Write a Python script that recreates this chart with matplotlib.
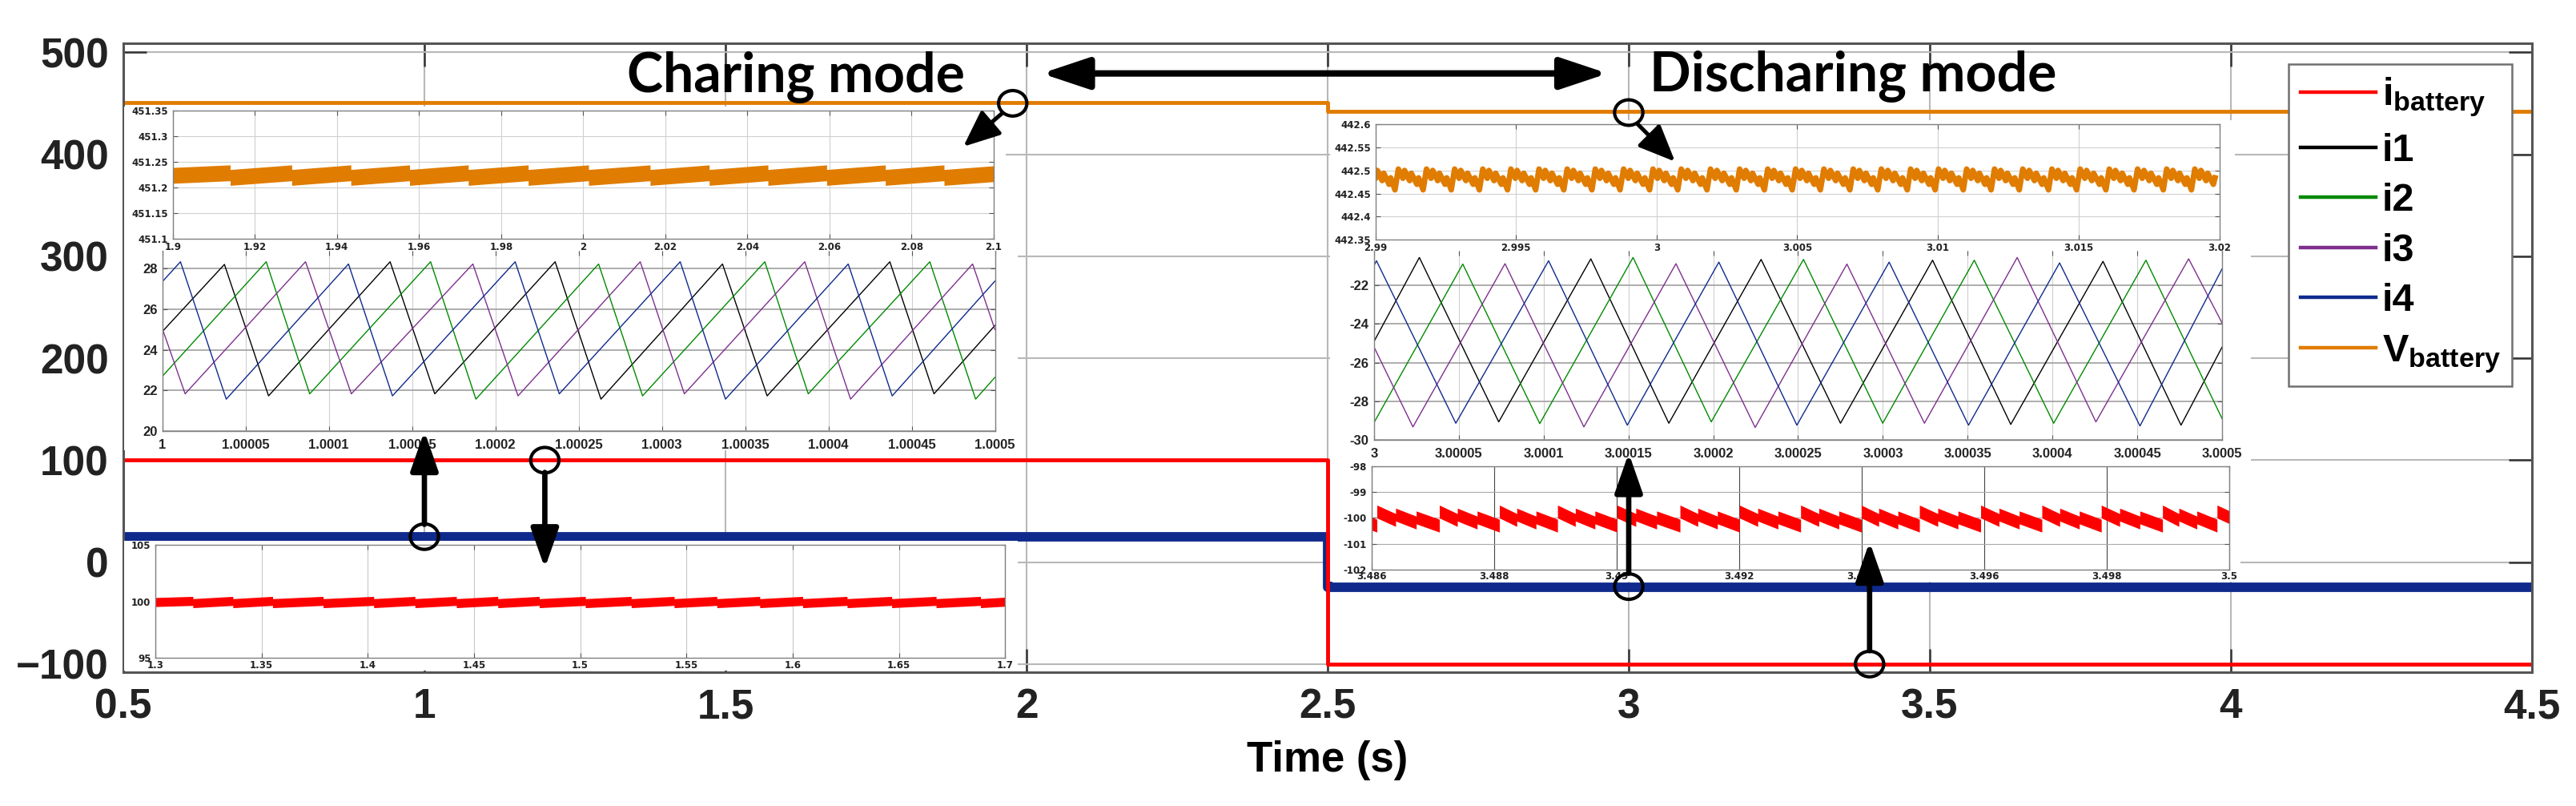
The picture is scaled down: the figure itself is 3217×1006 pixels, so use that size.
import matplotlib
matplotlib.use('Agg')
import matplotlib.pyplot as plt
import numpy as np
from matplotlib.lines import Line2D
from matplotlib.patches import Rectangle, Ellipse, FancyArrowPatch, ArrowStyle

plt.rcParams['font.family'] = 'Liberation Sans'
plt.rcParams['font.weight'] = 'bold'
plt.rcParams['mathtext.fontset'] = 'custom'
plt.rcParams['mathtext.rm'] = 'Liberation Sans:bold'
plt.rcParams['mathtext.it'] = 'Liberation Sans:bold'
plt.rcParams['mathtext.bf'] = 'Liberation Sans:bold'

W, H = 3217, 1006

RED = '#ff0000'
BLACK = '#000000'
GREEN = '#008a00'
PURPLE = '#7e2f8e'
BLUE = '#0f2a8c'
ORANGE = '#e07c00'

# ---- whole run, 0.5 .. 4.5 s ----
t_main = [0.5, 2.5, 4.5]
i_battery_main = [100, -100, -100]
i_phase_main = [25, -25, -25]
v_battery_main = [451.2, 442.48, 442.48]
main_xlabels = ['0.5', '1', '1.5', '2', '2.5', '3', '3.5', '4', '4.5']
main_ylabels = ['\u2212100', '0', '100', '200', '300', '400', '500']

# ---- zoom: battery voltage, charging (1.9 .. 2.1 s) ----
vchg_drops = [1.914, 1.929, 1.9434, 1.9577, 1.972, 1.9866, 2.0013, 2.0163,
              2.0307, 2.045, 2.0593, 2.0736, 2.0879]
vchg_start, vchg_end = 451.2235, 451.2268
vchg_before, vchg_after = 451.2285, 451.2195
vchg_half = 0.0155
vchg_xlabels = ['1.9', '1.92', '1.94', '1.96', '1.98', '2', '2.02', '2.04', '2.06', '2.08', '2.1']
vchg_ylabels = ['451.1', '451.15', '451.2', '451.25', '451.3', '451.35']

# ---- zoom: phase currents, charging (microseconds after 1 s) ----
chg_i1_us = [0, 37.3, 63.8, 136.8, 163.6, 235.9, 263.4, 336.4, 363.2, 436.9, 463.4, 500]
chg_i1 = [24.9, 28.2, 21.74, 28.33, 21.84, 28.33, 21.58, 28.22, 21.74, 28.33, 21.84, 25.2]
chg_i2_us = [0, 62.4, 88.5, 161.1, 188.3, 262, 288.4, 361.8, 387.9, 460.9, 488.4, 500]
chg_i2 = [22.7, 28.33, 21.84, 28.33, 21.58, 28.22, 21.74, 28.33, 21.84, 28.33, 21.58, 22.65]
chg_i3_us = [0, 13.7, 86, 113.5, 186.5, 213.6, 287, 313.5, 385.8, 413.3, 486.6, 500]
chg_i3 = [25.05, 21.84, 28.33, 21.84, 28.22, 21.74, 28.33, 21.84, 28.33, 21.58, 28.22, 25.0]
chg_i4_us = [0, 10.9, 38.4, 111.8, 138.2, 211.9, 238.4, 311, 338.2, 411.9, 438.3, 500]
chg_i4 = [27.35, 28.33, 21.58, 28.22, 21.74, 28.33, 21.84, 28.33, 21.58, 28.22, 21.74, 27.38]
chg_xlabels = ['1', '1.00005', '1.0001', '1.00015', '1.0002', '1.00025', '1.0003',
               '1.00035', '1.0004', '1.00045', '1.0005']
chg_ylabels = ['20', '22', '24', '26', '28']

# ---- zoom: battery current, charging (1.3 .. 1.7 s) ----
ichg_drops = [1.3177, 1.3365, 1.3552, 1.379, 1.4028, 1.4222, 1.4417, 1.4612, 1.4807,
              1.5024, 1.524, 1.5442, 1.5643, 1.5845, 1.6047, 1.6256, 1.6466, 1.6675, 1.6884]
ichg_start, ichg_end = 99.93, 99.96
ichg_before, ichg_after = 100.03, 99.83
ichg_half = 0.4
ichg_xlabels = ['1.3', '1.35', '1.4', '1.45', '1.5', '1.55', '1.6', '1.65', '1.7']
ichg_ylabels = ['95', '100', '105']

# ---- zoom: battery voltage, discharging (2.99 .. 3.02 s) ----
vdis_dips = [2.98975, 2.9907, 2.9917, 2.9927, 2.9937, 2.9947, 2.9957, 2.9967, 2.9977,
             2.9987, 2.99975, 3.00075, 3.00179, 3.00283, 3.00383, 3.00482, 3.00582,
             3.00687, 3.00786, 3.00891, 3.0099, 3.0109, 3.01189, 3.01289, 3.01393,
             3.01493, 3.01597, 3.01697, 3.01801, 3.01901, 3.02001]
vdis_cycle_frac = [0.0, 0.12, 0.28, 0.34, 0.52, 0.58, 0.78, 0.84]
vdis_cycle_val = [442.458, 442.503, 442.483, 442.500, 442.478, 442.494, 442.470, 442.484]
vdis_xlabels = ['2.99', '2.995', '3', '3.005', '3.01', '3.015', '3.02']
vdis_ylabels = ['442.35', '442.4', '442.45', '442.5', '442.55', '442.6']

# ---- zoom: phase currents, discharging (microseconds after 3 s) ----
dis_i1_us = [0, 26.7, 73.5, 127.8, 173.8, 228.2, 275, 329.3, 375.4, 429.8, 475.8, 500]
dis_i1 = [-24.9, -20.56, -29.07, -20.63, -29.14, -20.66, -29.14, -20.7, -29.2, -20.76, -29.24, -25.2]
dis_i2_us = [0, 52.3, 97.7, 152.7, 198.8, 253.2, 299.9, 353.9, 400.7, 455.1, 500]
dis_i2 = [-29.1, -20.9, -29.16, -20.56, -29.07, -20.66, -29.14, -20.7, -29.14, -20.7, -28.9]
dis_i3_us = [0, 22.9, 77.2, 123.7, 178, 224.7, 278.8, 324.5, 379.2, 425.6, 480.3, 500]
dis_i3 = [-25.2, -29.33, -20.88, -29.33, -20.88, -29.36, -20.9, -29.14, -20.56, -29.07, -20.63, -23.95]
dis_i4_us = [0, 1.4, 48.2, 102.9, 149.3, 203.3, 249.3, 303.7, 350.5, 404.2, 451.6, 500]
dis_i4 = [-20.97, -20.73, -29.14, -20.73, -29.24, -20.8, -29.24, -20.8, -29.24, -20.84, -29.28, -21.15]
dis_xlabels = ['3', '3.00005', '3.0001', '3.00015', '3.0002', '3.00025', '3.0003',
               '3.00035', '3.0004', '3.00045', '3.0005']
dis_ylabels = ['-30', '-28', '-26', '-24', '-22']

# ---- zoom: battery current, discharging (3.486 .. 3.5 s) ----
idis_jumps = [3.48508, 3.48608, 3.4871, 3.48808, 3.48903, 3.49, 3.49103, 3.492, 3.493,
              3.49399, 3.49494, 3.49594, 3.49694, 3.49791, 3.49891, 3.4998, 3.5008]
idis_cycle_frac = [0.0, 0.30, 0.30, 0.63, 0.63]
idis_cycle_val = [-99.75, -100.08, -99.87, -100.18, -99.98]
idis_end_val = -100.3
idis_half = 0.25
idis_xlabels = ['3.486', '3.488', '3.49', '3.492', '3.494', '3.496', '3.498', '3.5']
idis_ylabels = ['-102', '-101', '-100', '-99', '-98']


def sawtooth(t0, t1, drops, start, end, before, after):
    ts, vs = [t0], [start]
    for d in drops:
        ts += [d, d]
        vs += [before, after]
    ts.append(t1)
    vs.append(end)
    return np.array(ts), np.array(vs)


def cycles(marks, frac, vals, last=None):
    ts, vs = [], []
    for a, b in zip(marks[:-1], marks[1:]):
        for f, v in zip(frac, vals):
            ts.append(a + f * (b - a))
            vs.append(v)
        if last is not None:
            ts.append(b)
            vs.append(last)
    return np.array(ts), np.array(vs)


def px_rect(l, t, r, b):
    return [l / W, 1 - b / H, (r - l) / W, (b - t) / H]


fig = plt.figure(figsize=(W / 100, H / 100), dpi=100)

# main axes
ax = fig.add_axes(px_rect(154, 54, 3162, 839))
ax.set_xlim(0.5, 4.5)
ax.set_ylim(-108, 509)
ax.step(t_main, v_battery_main, where='post', color=ORANGE, lw=3.5)
ax.step(t_main, i_phase_main, where='post', color=BLACK, lw=7)
ax.step(t_main, i_phase_main, where='post', color=GREEN, lw=7)
ax.step(t_main, i_phase_main, where='post', color=PURPLE, lw=7)
ax.step(t_main, i_phase_main, where='post', color=BLUE, lw=8.5)
ax.step(t_main, i_battery_main, where='post', color=RED, lw=3.5)
ax.set_xticks([float(s) for s in main_xlabels], main_xlabels)
ax.set_yticks([float(s.replace('\u2212', '-')) for s in main_ylabels], main_ylabels)
ax.grid(True, color='#b8b8b8', lw=1.5)
ax.set_axisbelow(True)
ax.tick_params(direction='in', length=21, width=1.8, color='#333333',
               top=True, right=True, labelsize=37, labelcolor='#222222')
ax.tick_params(axis='x', pad=14)
ax.tick_params(axis='y', pad=13)
for s in ax.spines.values():
    s.set_color('#555555')
    s.set_linewidth(2.2)
ax.set_xlabel('Time (s)', fontsize=38, fontweight='bold', labelpad=12)

# white panels behind the zoomed plots
for l, t, r, b in [(155, 133, 1256, 313), (155, 313, 1271, 562), (155, 675, 1271, 837),
                   (1661, 150, 2791, 313), (1661, 313, 2811, 575), (1661, 575, 2798, 726)]:
    fig.add_artist(Rectangle((l / W, 1 - b / H), (r - l) / W, (b - t) / H,
                             transform=fig.transFigure, facecolor='white',
                             edgecolor='none', zorder=1))


def inset(box, xlabels, ylabels, small, xlim=None, ylim=None):
    a = fig.add_axes(px_rect(*box), zorder=2)
    xt = [float(s) for s in xlabels]
    yt = [float(s) for s in ylabels]
    a.set_xlim(xlim if xlim else (xt[0], xt[-1]))
    a.set_ylim(ylim if ylim else (yt[0], yt[-1]))
    a.set_xticks(xt, xlabels)
    a.set_yticks(yt, ylabels)
    if small:
        fp = dict(family='DejaVu Sans', weight='bold', size=8.5)
    else:
        fp = dict(family='Liberation Sans', weight='bold', size=12)
    for lab in a.get_xticklabels() + a.get_yticklabels():
        lab.set_fontproperties(matplotlib.font_manager.FontProperties(**fp))
        lab.set_color('#222222')
    a.tick_params(direction='in', length=4, width=0.8, color='#555555',
                  top=True, right=True)
    for s in a.spines.values():
        s.set_color('#808080')
        s.set_linewidth(1.0)
    return a


# charging voltage
a1 = inset((215.7, 138.3, 1241, 297.7), vchg_xlabels, vchg_ylabels, True)
a1.grid(True, color='#d0d0d0', lw=0.8)
a1.set_axisbelow(True)
a1.tick_params(axis='x', pad=3)
a1.tick_params(axis='y', pad=4)
tt, vv = sawtooth(1.9, 2.1, vchg_drops, vchg_start, vchg_end, vchg_before, vchg_after)
a1.fill_between(tt, vv - vchg_half, vv + vchg_half, color=ORANGE, lw=0)

# charging phase currents
a2 = inset((202.7, 313, 1242.5, 538.3), chg_xlabels, chg_ylabels, False, ylim=(20, 28.87))
a2.spines['top'].set_visible(False)
a2.grid(True, axis='x', color='#cfcfcf', lw=0.8)
a2.grid(True, axis='y', color='#a0a0a0', lw=1.2)
a2.set_axisbelow(True)
a2.tick_params(axis='x', pad=7)
a2.tick_params(axis='y', pad=4)
for us, val, c in [(chg_i1_us, chg_i1, BLACK), (chg_i2_us, chg_i2, GREEN),
                   (chg_i3_us, chg_i3, PURPLE), (chg_i4_us, chg_i4, BLUE)]:
    a2.plot(1 + np.array(us) * 1e-6, val, color=c, lw=1.0)

# charging battery current
a3 = inset((194, 680, 1255.3, 821), ichg_xlabels, ichg_ylabels, True)
a3.grid(True, axis='x', color='#c8c8c8', lw=0.8)
a3.set_axisbelow(True)
a3.tick_params(axis='x', pad=2)
a3.tick_params(axis='y', pad=4)
tt, vv = sawtooth(1.3, 1.7, ichg_drops, ichg_start, ichg_end, ichg_before, ichg_after)
a3.fill_between(tt, vv - ichg_half, vv + ichg_half, color=RED, lw=0)

# discharging voltage
a4 = inset((1717.5, 155, 2771.5, 299.3), vdis_xlabels, vdis_ylabels, True)
a4.grid(True, color='#d0d0d0', lw=0.8)
a4.set_axisbelow(True)
a4.tick_params(axis='x', pad=3)
a4.tick_params(axis='y', pad=4)
tt, vv = cycles(vdis_dips, vdis_cycle_frac, vdis_cycle_val)
a4.plot(tt, vv, color=ORANGE, lw=5)

# discharging phase currents
a5 = inset((1716, 312.7, 2775, 549), dis_xlabels, dis_ylabels, False, ylim=(-30, -20.2))
a5.spines['top'].set_visible(False)
a5.grid(True, axis='x', color='#cfcfcf', lw=0.8)
a5.grid(True, axis='y', color='#a0a0a0', lw=1.2)
a5.set_axisbelow(True)
a5.tick_params(axis='x', pad=7)
a5.tick_params(axis='y', pad=5)
for us, val, c in [(dis_i1_us, dis_i1, BLACK), (dis_i2_us, dis_i2, GREEN),
                   (dis_i3_us, dis_i3, PURPLE), (dis_i4_us, dis_i4, BLUE)]:
    a5.plot(3 + np.array(us) * 1e-6, val, color=c, lw=1.0)

# discharging battery current
a6 = inset((1713.4, 582.3, 2784, 710.7), idis_xlabels, idis_ylabels, True)
a6.grid(True, axis='x', color='#444444', lw=0.8)
a6.grid(True, axis='y', color='#a8a8a8', lw=0.8)
a6.set_axisbelow(True)
a6.tick_params(axis='x', pad=2)
a6.tick_params(axis='y', pad=5)
tt, vv = cycles(idis_jumps, idis_cycle_frac, idis_cycle_val, last=idis_end_val)
a6.fill_between(tt, vv - idis_half, vv + idis_half, color=RED, lw=0)

# legend
handles = [Line2D([], [], color=c, lw=3.2) for c in [RED, BLACK, GREEN, PURPLE, BLUE, ORANGE]]
labels = [r'$\mathregular{i_{battery}}$', 'i1', 'i2', 'i3', 'i4', r'$\mathregular{V_{battery}}$']
leg = ax.legend(handles, labels, loc='upper left', bbox_to_anchor=(2858 / W, 1 - 80 / H),
                bbox_transform=fig.transFigure, fontsize=35, handlelength=1.95,
                handletextpad=0.15, labelspacing=0.36, borderpad=0.3, borderaxespad=0,
                fancybox=False, framealpha=1, edgecolor='#707070')
leg.get_frame().set_linewidth(1.8)
leg.set_zorder(10)

# mode labels and markers
ax.text(1.8978, 461, 'Charing mode', fontsize=49, fontweight='bold', family='Lato',
        ha='right', va='baseline')
ax.text(3.0349, 462, 'Discharing mode', fontsize=49, fontweight='bold', family='Lato',
        ha='left', va='baseline')


def arrow(p, q, style, lw):
    fig.add_artist(FancyArrowPatch(p, q, arrowstyle=style, mutation_scale=1, lw=lw,
                                   color='k', shrinkA=0, shrinkB=0,
                                   transform=ax.transData, zorder=6))


def ring(x, y):
    fig.add_artist(Ellipse((x, y), 0.047, 25, fill=False, lw=3, ec='k',
                           transform=ax.transData, zorder=7))


arrow((2.025, 479.4), (2.965, 479.4), ArrowStyle('<|-|>', head_length=36, head_width=12), 5.8)

vertical = ArrowStyle('-|>', head_length=30, head_width=10.5)
diagonal = ArrowStyle('-|>', head_length=28, head_width=12)

ring(1.977, 450.1)
arrow((1.960, 440.6), (1.895, 407.6), diagonal, 3.6)
ring(3.0, 441.0)
arrow((3.015, 429.6), (3.077, 392.9), diagonal, 3.6)
ring(1.0, 25)
arrow((1.0, 37), (1.0, 128.5), vertical, 4.8)
ring(1.2, 100)
arrow((1.2, 88), (1.2, -6), vertical, 4.8)
ring(3.0, -24)
arrow((3.0, -11), (3.0, 107), vertical, 4.8)
ring(3.4, -100)
arrow((3.4, -87), (3.4, 20), vertical, 4.8)

fig.savefig('out.png', dpi=100)
